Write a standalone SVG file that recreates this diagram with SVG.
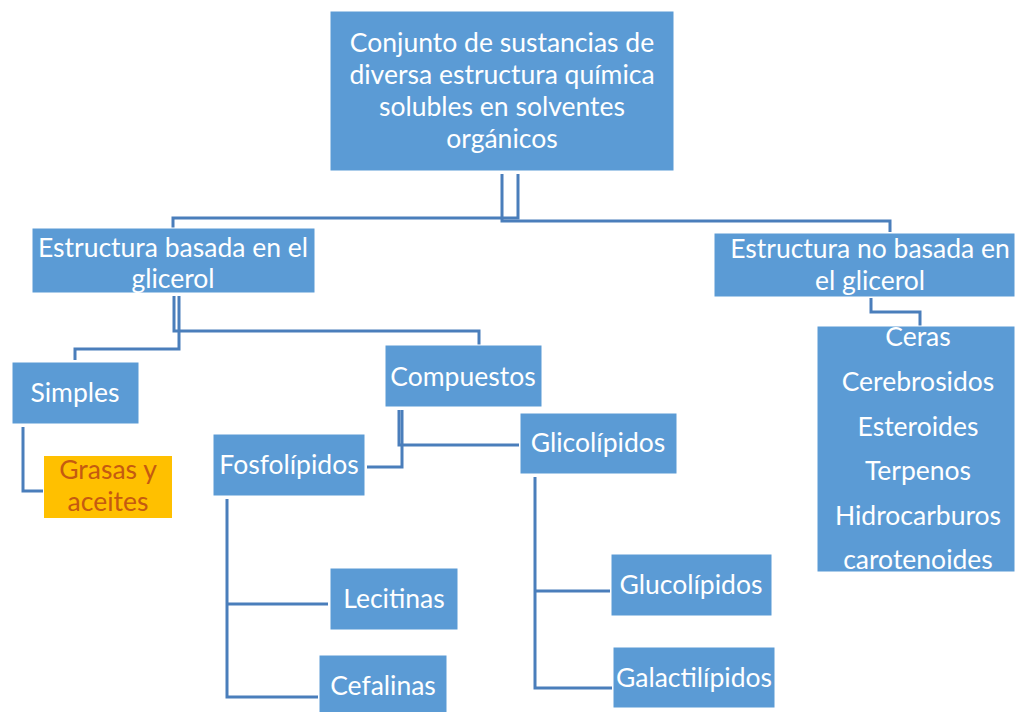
<svg xmlns="http://www.w3.org/2000/svg" width="1015" height="712" viewBox="0 0 1015 712">
<style>
.box{fill:#5B9BD5;stroke:#ffffff;stroke-width:1}
.t{font-family:Lato,"Open Sans","Liberation Sans",sans-serif;font-size:26.5px;fill:#ffffff;text-anchor:middle}
.o{fill:#C55A11}
.c{fill:none;stroke:#4A7EBB;stroke-width:3}
</style>
<rect width="1015" height="712" fill="#ffffff"/>
<g id="connectors">
<path class="c" d="M173 228 V218 H518 V174"/>
<path class="c" d="M502 174 V221 H890 V232"/>
<path class="c" d="M871 298 V312 H920 V326"/>
<path class="c" d="M179 296 V349 H75 V360"/>
<path class="c" d="M174 296 V331 H479 V345"/>
<path class="c" d="M23 427 V491 H43"/>
<path class="c" d="M399 410 V445 H519"/>
<path class="c" d="M402 410 V467 H367"/>
<path class="c" d="M227 499 V697 H318 M227 604 H328"/>
<path class="c" d="M535 477 V688 H612 M535 591 H610"/>
</g>
<g id="n-root"><rect class="box" x="330" y="11" width="344" height="160"/>
<text class="t" x="502" y="52">Conjunto de sustancias de</text>
<text class="t" x="502" y="84">diversa estructura química</text>
<text class="t" x="502" y="116">solubles en solventes</text>
<text class="t" x="502" y="148">orgánicos</text></g>
<g id="n-basada"><rect class="box" x="32" y="228" width="283" height="65"/>
<text class="t" x="173" y="257">Estructura basada en el</text>
<text class="t" x="173" y="288">glicerol</text></g>
<g id="n-nobasada"><rect class="box" x="714" y="233" width="301" height="64"/>
<text class="t" x="870" y="258">Estructura no basada en</text>
<text class="t" x="870" y="290">el glicerol</text></g>
<g id="n-lista"><rect class="box" x="817" y="326" width="198" height="246"/>
<text class="t" x="918" y="346">Ceras</text>
<text class="t" x="918" y="391">Cerebrosidos</text>
<text class="t" x="918" y="436">Esteroides</text>
<text class="t" x="918" y="480">Terpenos</text>
<text class="t" x="918" y="525">Hidrocarburos</text>
<text class="t" x="918" y="569">carotenoides</text></g>
<g id="n-simples"><rect class="box" x="12" y="362" width="127" height="62"/>
<text class="t" x="75" y="402">Simples</text></g>
<g id="n-grasas"><rect x="44" y="456" width="128" height="62" fill="#FFC000"/>
<text class="t o" x="108" y="479">Grasas y</text>
<text class="t o" x="108" y="511">aceites</text></g>
<g id="n-compuestos"><rect class="box" x="385" y="345" width="157" height="62"/>
<text class="t" x="463" y="386">Compuestos</text></g>
<g id="n-glicolipidos"><rect class="box" x="520" y="413" width="157" height="61"/>
<text class="t" x="598" y="452">Glicolípidos</text></g>
<g id="n-fosfolipidos"><rect class="box" x="213" y="434" width="152" height="62"/>
<text class="t" x="289" y="474">Fosfolípidos</text></g>
<g id="n-lecitinas"><rect class="box" x="330" y="568" width="128" height="62"/>
<text class="t" x="394" y="608">Lecitinas</text></g>
<g id="n-cefalinas"><rect class="box" x="319" y="655" width="128" height="62"/>
<text class="t" x="383" y="695">Cefalinas</text></g>
<g id="n-glucolipidos"><rect class="box" x="611" y="554" width="161" height="62"/>
<text class="t" x="691" y="594">Glucolípidos</text></g>
<g id="n-galactilipidos"><rect class="box" x="613" y="647" width="162" height="61"/>
<text class="t" x="694" y="687">Galactilípidos</text></g>
</svg>
